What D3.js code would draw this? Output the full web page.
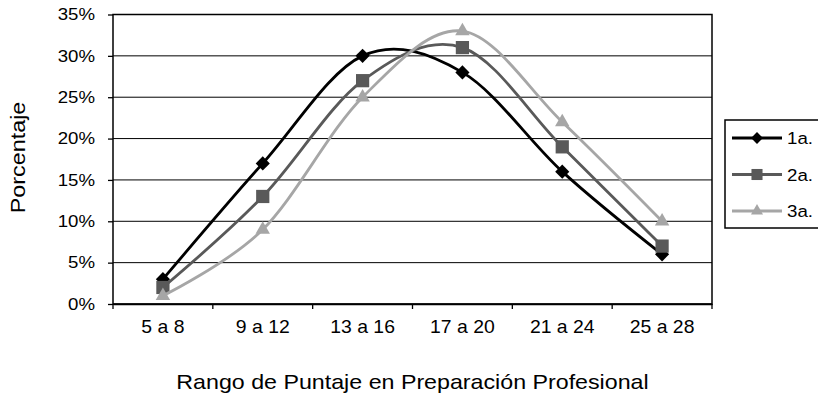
<!DOCTYPE html>
<html><head><meta charset="utf-8">
<script src="https://cdn.jsdelivr.net/npm/d3@7"></script>
<style>body{margin:0;background:#fff}svg{display:block;font-family:"Liberation Sans",Arial,sans-serif}</style>
</head><body><svg id="c" width="818" height="399"></svg>
<script>
const categories = ["5 a 8","9 a 12","13 a 16","17 a 20","21 a 24","25 a 28"];
const s1 = [3,17,30,28,16,6];
const s2 = [2,13,27,31,19,7];
const s3 = [1,9,25,33,22,10];
const seriesNames = ["1a.","2a.","3a."];
const yTicks = [0,5,10,15,20,25,30,35];

const svg = d3.select("#c");
const L=113, R=712, T=14.5, B=304;
const x = d3.scaleBand().domain(categories).range([L,R]);
const y = d3.scaleLinear().domain([0,35]).range([B,T]);

// gridlines
svg.append("g").selectAll("line").data(yTicks).join("line")
  .attr("x1",L).attr("x2",R).attr("y1",d=>y(d)).attr("y2",d=>y(d))
  .attr("stroke","#000").attr("stroke-width",1);
// plot border
svg.append("rect").attr("x",L).attr("y",T).attr("width",R-L).attr("height",B-T)
  .attr("fill","none").attr("stroke","#000").attr("stroke-width",1.5);

// y axis
const ySX = 1.13;
const ya = svg.append("g").attr("transform",`translate(${L},0)`)
  .call(d3.axisLeft(y).tickValues(yTicks).tickSize(5).tickPadding(4).tickFormat(d=>d+"%"));
ya.select(".domain").remove();
ya.selectAll(".tick line").attr("stroke","#000").attr("stroke-width",1.3);
ya.selectAll("text").attr("font-size",16.5).attr("fill","#000").attr("font-family","Liberation Sans, Arial")
  .attr("x",-18/ySX).attr("transform",`scale(${ySX},1)`);
// x axis
const xSX = 1.06;
const xa = svg.append("g").attr("transform",`translate(0,${B})`)
  .call(d3.axisBottom(x).tickSize(0).tickPadding(16));
xa.select(".domain").attr("stroke","#000").attr("stroke-width",1.5);
xa.selectAll("text").attr("font-size",18.3).attr("fill","#000").attr("font-family","Liberation Sans, Arial")
  .attr("transform",`scale(${xSX},1)`);
svg.append("g").selectAll("line").data(d3.range(categories.length+1)).join("line")
  .attr("x1",i=>L+i*x.step()).attr("x2",i=>L+i*x.step()).attr("y1",B).attr("y2",B+5)
  .attr("stroke","#000").attr("stroke-width",1.3);

// titles
svg.append("text").attr("transform",`translate(${(L+R)/2},389) scale(1.15,1)`).attr("text-anchor","middle")
  .attr("font-size",20.2).text("Rango de Puntaje en Preparación Profesional");
svg.append("text").attr("transform","translate(25,157.5) rotate(-90) scale(1.18,1)").attr("text-anchor","middle")
  .attr("font-size",19.8).text("Porcentaje");

const series = [
  {name:seriesNames[0], vals:s1, color:"#000000", sym:d3.symbolSquare, size:100, rot:45},
  {name:seriesNames[1], vals:s2, color:"#595959", sym:d3.symbolSquare, size:175, rot:0},
  {name:seriesNames[2], vals:s3, color:"#a6a6a6", sym:d3.symbolTriangle, size:90, rot:0}
];
const line = d3.line().x((d,i)=>x(categories[i])+x.bandwidth()/2).y(d=>y(d)).curve(d3.curveCatmullRom.alpha(0));

series.forEach(s=>{
  svg.append("path").attr("d",line(s.vals)).attr("fill","none").attr("stroke",s.color).attr("stroke-width",2.8);
  svg.append("g").selectAll("path").data(s.vals).join("path")
    .attr("transform",(d,i)=>`translate(${x(categories[i])+x.bandwidth()/2},${y(d)}) rotate(${s.rot})`)
    .attr("d",d3.symbol().type(s.sym).size(s.size)).attr("fill",s.color);
});

// legend
const lg = svg.append("g");
lg.append("rect").attr("x",725).attr("y",120).attr("width",100).attr("height",108)
  .attr("fill","#fff").attr("stroke","#000").attr("stroke-width",1.5);
series.forEach((s,i)=>{
  const yy = 138 + i*36.5;
  lg.append("line").attr("x1",732).attr("x2",782).attr("y1",yy).attr("y2",yy).attr("stroke",s.color).attr("stroke-width",2.8);
  lg.append("path").attr("transform",`translate(757,${yy}) rotate(${s.rot})`).attr("d",d3.symbol().type(s.sym).size(s.size*0.7)).attr("fill",s.color);
  lg.append("text").attr("transform",`translate(787,${yy+6}) scale(1.1,1)`).attr("font-size",17).text(s.name);
});
</script></body></html>
